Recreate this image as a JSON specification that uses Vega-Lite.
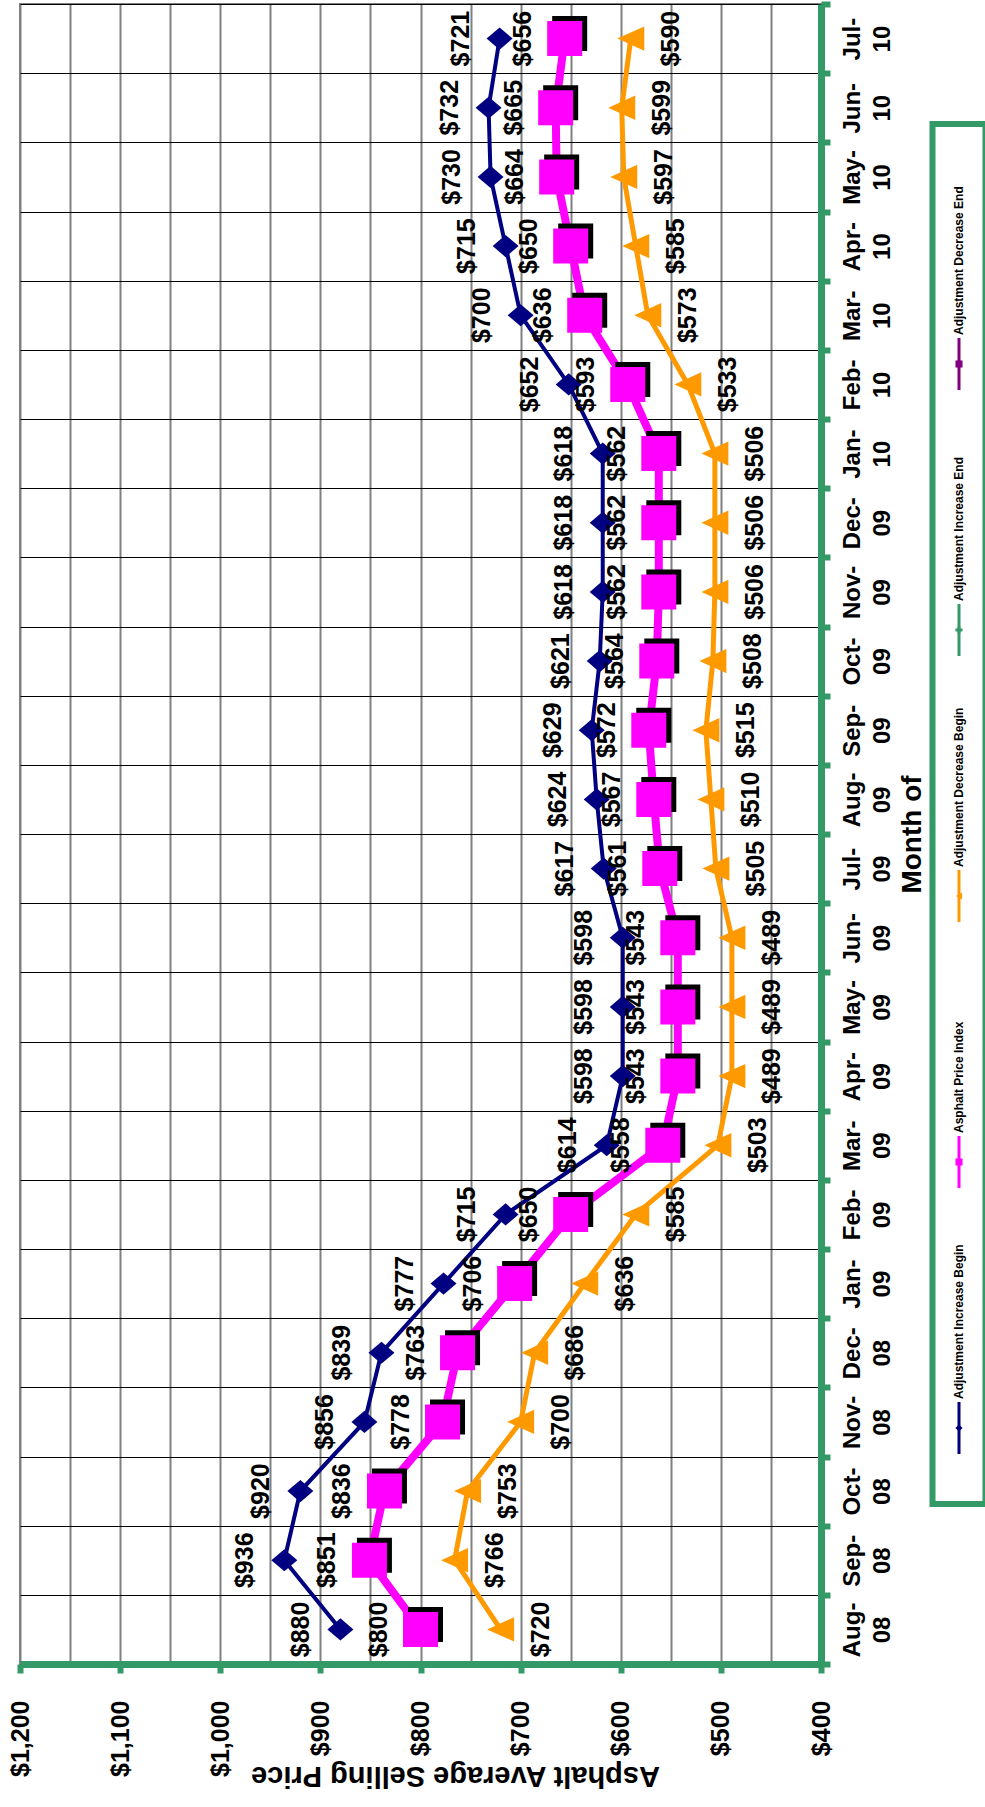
{
  "$schema": "https://vega.github.io/schema/vega-lite/v6.json",
  "padding": {"left": 7, "top": 0, "right": 0, "bottom": 0},
  "background": "white",
  "config": {"font": "Liberation Sans"},
  "datasets": {
    "prices": [
      {"date": "2008-08-15", "increase_begin": 880, "price_index": 800, "decrease_begin": 720},
      {"date": "2008-09-15", "increase_begin": 936, "price_index": 851, "decrease_begin": 766},
      {"date": "2008-10-15", "increase_begin": 920, "price_index": 836, "decrease_begin": 753},
      {"date": "2008-11-15", "increase_begin": 856, "price_index": 778, "decrease_begin": 700},
      {"date": "2008-12-15", "increase_begin": 839, "price_index": 763, "decrease_begin": 686},
      {"date": "2009-01-15", "increase_begin": 777, "price_index": 706, "decrease_begin": 636},
      {"date": "2009-02-15", "increase_begin": 715, "price_index": 650, "decrease_begin": 585},
      {"date": "2009-03-15", "increase_begin": 614, "price_index": 558, "decrease_begin": 503},
      {"date": "2009-04-15", "increase_begin": 598, "price_index": 543, "decrease_begin": 489},
      {"date": "2009-05-15", "increase_begin": 598, "price_index": 543, "decrease_begin": 489},
      {"date": "2009-06-15", "increase_begin": 598, "price_index": 543, "decrease_begin": 489},
      {"date": "2009-07-15", "increase_begin": 617, "price_index": 561, "decrease_begin": 505},
      {"date": "2009-08-15", "increase_begin": 624, "price_index": 567, "decrease_begin": 510},
      {"date": "2009-09-15", "increase_begin": 629, "price_index": 572, "decrease_begin": 515},
      {"date": "2009-10-15", "increase_begin": 621, "price_index": 564, "decrease_begin": 508},
      {"date": "2009-11-15", "increase_begin": 618, "price_index": 562, "decrease_begin": 506},
      {"date": "2009-12-15", "increase_begin": 618, "price_index": 562, "decrease_begin": 506},
      {"date": "2010-01-15", "increase_begin": 618, "price_index": 562, "decrease_begin": 506},
      {"date": "2010-02-15", "increase_begin": 652, "price_index": 593, "decrease_begin": 533},
      {"date": "2010-03-15", "increase_begin": 700, "price_index": 636, "decrease_begin": 573},
      {"date": "2010-04-15", "increase_begin": 715, "price_index": 650, "decrease_begin": 585},
      {"date": "2010-05-15", "increase_begin": 730, "price_index": 664, "decrease_begin": 597},
      {"date": "2010-06-15", "increase_begin": 732, "price_index": 665, "decrease_begin": 599},
      {"date": "2010-07-15", "increase_begin": 721, "price_index": 656, "decrease_begin": 590}
    ],
    "legend": [
      {"series": "Adjustment Increase Begin"},
      {"series": "Asphalt Price Index"},
      {"series": "Adjustment Decrease Begin"},
      {"series": "Adjustment Increase End"},
      {"series": "Adjustment Decrease End"}
    ]
  },
  "spacing": 111.5,
  "bounds": "flush",
  "resolve": {"scale": {"x": "independent", "y": "independent", "color": "independent", "shape": "independent"}},
  "hconcat": [
    {
      "width": 801,
      "height": 1660,
      "view": {"stroke": "#808080", "strokeWidth": 2},
      "data": {"name": "prices"},
      "transform": [{"fold": ["increase_begin", "price_index", "decrease_begin"], "as": ["series", "price"]}],
      "encoding": {
        "x": {
          "field": "price", "type": "quantitative",
          "scale": {"domain": [400, 1200], "reverse": true, "nice": false, "zero": false},
          "axis": {
            "orient": "bottom",
            "values": [400, 450, 500, 550, 600, 650, 700, 750, 800, 850, 900, 950, 1000, 1050, 1100, 1150, 1200],
            "title": "Asphalt Average Selling Price",
            "grid": true, "gridColor": "#808080", "gridWidth": 2,
            "domainColor": "#339966", "domainWidth": 7,
            "ticks": true, "tickColor": "#339966", "tickWidth": 6, "tickSize": 9,
            "tickOpacity": {"condition": {"test": "datum.value % 100 !== 0", "value": 0}, "value": 1},
            "labelExpr": "datum.value % 100 === 0 ? format(datum.value, '$,.0f') : ''",
            "labelAngle": 270, "labelAlign": "right", "labelBaseline": "middle", "labelPadding": 27,
            "labelFontSize": 25, "labelFontWeight": "bold", "labelColor": "#000000",
            "labelOverlap": false, "labelBound": false, "labelFlush": false,
            "titleAngle": 180, "titleBaseline": "bottom", "titleAlign": "center", "titleX": 435, "titlePadding": -16,
            "titleFontSize": 29, "titleFontWeight": "bold", "titleColor": "#000000"
          }
        },
        "y": {
          "field": "date", "type": "ordinal", "timeUnit": "yearmonth", "sort": "descending",
          "scale": {"type": "band", "paddingInner": 0, "paddingOuter": 0},
          "axis": {
            "orient": "right",
            "title": "Month of",
            "tickBand": "extent",
            "grid": true, "gridColor": "#000000", "gridWidth": 1,
            "domainColor": "#339966", "domainWidth": 7,
            "tickColor": "#339966", "tickWidth": 6, "tickSize": 9,
            "labelExpr": "isValid(datum.value) ? [timeFormat(datum.value, '%b') + '-', timeFormat(datum.value, '%y')] : ''",
            "labelAngle": 270, "labelAlign": "center", "labelBaseline": "top", "labelPadding": 10,
            "labelFontSize": 24, "labelFontWeight": "bold", "labelLineHeight": 30, "labelColor": "#000000",
            "labelOverlap": false, "labelBound": false,
            "titleAngle": 270, "titleBaseline": "top", "titlePadding": 4,
            "titleFontSize": 28, "titleFontWeight": "bold", "titleColor": "#000000"
          }
        }
      },
      "layer": [
        {
          "transform": [{"filter": "datum.series === 'increase_begin'"}],
          "mark": {"type": "line", "color": "#000080", "strokeWidth": 4},
          "encoding": {"order": {"field": "date", "type": "temporal"}}
        },
        {
          "transform": [{"filter": "datum.series === 'increase_begin'"}],
          "mark": {"type": "point", "shape": "M-1,0L0,-0.85L1,0L0,0.85Z", "size": 676, "filled": true, "opacity": 1, "color": "#000080", "strokeWidth": 0}
        },
        {
          "transform": [{"filter": "datum.series === 'price_index'"}],
          "mark": {"type": "line", "color": "#FF00FF", "strokeWidth": 8},
          "encoding": {"order": {"field": "date", "type": "temporal"}}
        },
        {
          "transform": [{"filter": "datum.series === 'price_index'"}],
          "mark": {"type": "point", "shape": "square", "size": 1225, "filled": true, "opacity": 1, "color": "#000000", "strokeWidth": 0, "xOffset": 5, "yOffset": -5}
        },
        {
          "transform": [{"filter": "datum.series === 'price_index'"}],
          "mark": {"type": "point", "shape": "square", "size": 1225, "filled": true, "opacity": 1, "color": "#FF00FF", "strokeWidth": 0}
        },
        {
          "transform": [{"filter": "datum.series === 'decrease_begin'"}],
          "mark": {"type": "line", "color": "#FF9900", "strokeWidth": 5},
          "encoding": {"order": {"field": "date", "type": "temporal"}}
        },
        {
          "transform": [{"filter": "datum.series === 'decrease_begin'"}],
          "mark": {"type": "point", "shape": "M-1,0L1,-0.9L1,0.9Z", "size": 729, "filled": true, "opacity": 1, "color": "#FF9900", "strokeWidth": 0}
        },
        {
          "transform": [{"filter": "datum.series === 'increase_begin'"}],
          "mark": {"type": "text", "angle": 270, "align": "center", "baseline": "middle", "dy": -39, "fontSize": 25, "fontWeight": "bold", "color": "#000000"},
          "encoding": {"text": {"field": "price", "type": "quantitative", "format": "$,.0f"}}
        },
        {
          "transform": [{"filter": "datum.series === 'price_index'"}],
          "mark": {"type": "text", "angle": 270, "align": "center", "baseline": "middle", "dy": -42, "fontSize": 25, "fontWeight": "bold", "color": "#000000"},
          "encoding": {"text": {"field": "price", "type": "quantitative", "format": "$,.0f"}}
        },
        {
          "transform": [{"filter": "datum.series === 'decrease_begin'"}],
          "mark": {"type": "text", "angle": 270, "align": "center", "baseline": "middle", "dy": 40, "fontSize": 25, "fontWeight": "bold", "color": "#000000"},
          "encoding": {"text": {"field": "price", "type": "quantitative", "format": "$,.0f"}}
        }
      ]
    },
    {
      "spacing": 0,
      "bounds": "flush",
      "vconcat": [
        {
          "width": 53,
          "height": 120,
          "view": {"stroke": null},
          "data": {"values": []},
          "mark": "point"
        },
        {
          "width": 53,
          "height": 1380,
          "view": {"stroke": "#339966", "strokeWidth": 6},
          "data": {"name": "legend"},
          "encoding": {
            "y": {
              "field": "series", "type": "nominal",
              "scale": {"type": "point", "padding": 0, "domain": ["Adjustment Decrease End", "Adjustment Increase End", "Adjustment Decrease Begin", "Asphalt Price Index", "Adjustment Increase Begin"], "range": [240, 1304]},
              "axis": null
            },
            "color": {
              "field": "series", "type": "nominal",
              "scale": {"domain": ["Adjustment Increase Begin", "Asphalt Price Index", "Adjustment Decrease Begin", "Adjustment Increase End", "Adjustment Decrease End"], "range": ["#000080", "#FF00FF", "#FF9900", "#339966", "#800080"]},
              "legend": null
            }
          },
          "layer": [
            {"mark": {"type": "point", "shape": "M0,-1L0,1", "size": 2704, "filled": false, "strokeWidth": 3, "opacity": 1}},
            {
              "mark": {"type": "point", "filled": true, "size": 50, "opacity": 1},
              "encoding": {
                "shape": {
                  "field": "series", "type": "nominal",
                  "scale": {"domain": ["Adjustment Increase Begin", "Asphalt Price Index", "Adjustment Decrease Begin", "Adjustment Increase End", "Adjustment Decrease End"], "range": ["diamond", "square", "triangle-left", "cross", "square"]},
                  "legend": null
                }
              }
            },
            {
              "mark": {"type": "text", "angle": 270, "align": "left", "baseline": "middle", "dx": 29, "fontSize": 12, "fontWeight": "bold"},
              "encoding": {"text": {"field": "series"}, "color": {"value": "#000000"}}
            }
          ]
        }
      ]
    }
  ]
}
